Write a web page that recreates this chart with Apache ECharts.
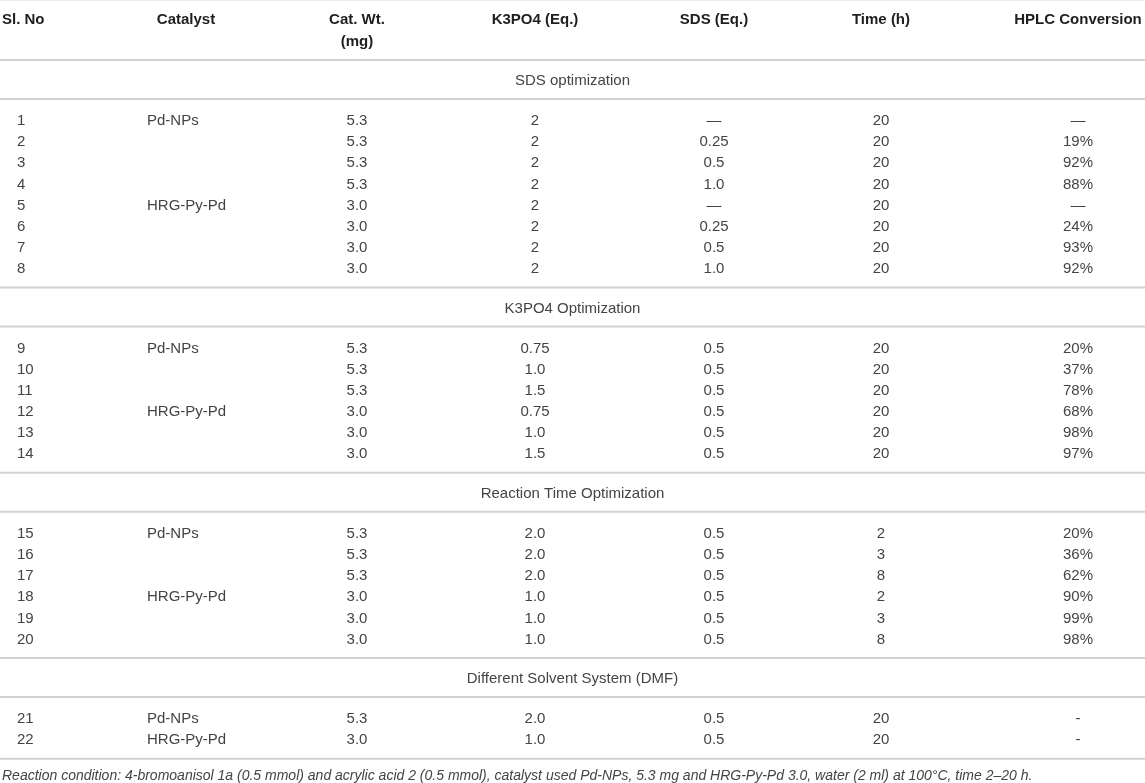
<!DOCTYPE html>
<html>
<head>
<meta charset="utf-8">
<script src="https://cdn.jsdelivr.net/npm/echarts@6/dist/echarts.min.js"></script>
<style>
  html, body { margin: 0; padding: 0; background: #fff; }
  #main { width: 1145px; height: 783px; }
</style>
</head>
<body>
<div id="main"></div>
<script>
// table content
var headers = ['Sl. No', 'Catalyst', 'Cat. Wt.\n(mg)', 'K3PO4 (Eq.)', 'SDS (Eq.)', 'Time (h)', 'HPLC Conversion'];
var sections = ['SDS optimization', 'K3PO4 Optimization', 'Reaction Time Optimization', 'Different Solvent System (DMF)'];
var sectionSizes = [8, 6, 6, 2];

var slNo = ['1', '2', '3', '4', '5', '6', '7', '8', '9', '10', '11',
            '12', '13', '14', '15', '16', '17', '18', '19', '20', '21', '22'];
var catalyst = ['Pd-NPs', '', '', '', 'HRG-Py-Pd', '', '', '',
                'Pd-NPs', '', '', 'HRG-Py-Pd', '', '',
                'Pd-NPs', '', '', 'HRG-Py-Pd', '', '',
                'Pd-NPs', 'HRG-Py-Pd'];
var catWt = ['5.3', '5.3', '5.3', '5.3', '3.0', '3.0', '3.0', '3.0',
             '5.3', '5.3', '5.3', '3.0', '3.0', '3.0',
             '5.3', '5.3', '5.3', '3.0', '3.0', '3.0',
             '5.3', '3.0'];
var k3po4 = ['2', '2', '2', '2', '2', '2', '2', '2',
             '0.75', '1.0', '1.5', '0.75', '1.0', '1.5',
             '2.0', '2.0', '2.0', '1.0', '1.0', '1.0',
             '2.0', '1.0'];
var sds = ['\u2014', '0.25', '0.5', '1.0', '\u2014', '0.25', '0.5', '1.0',
           '0.5', '0.5', '0.5', '0.5', '0.5', '0.5',
           '0.5', '0.5', '0.5', '0.5', '0.5', '0.5',
           '0.5', '0.5'];
var time = ['20', '20', '20', '20', '20', '20', '20', '20',
            '20', '20', '20', '20', '20', '20',
            '2', '3', '8', '2', '3', '8',
            '20', '20'];
var hplc = ['\u2014', '19%', '92%', '88%', '\u2014', '24%', '93%', '92%',
            '20%', '37%', '78%', '68%', '98%', '97%',
            '20%', '36%', '62%', '90%', '99%', '98%',
            '-', '-'];
var footnote = 'Reaction condition: 4-bromoanisol 1a (0.5 mmol) and acrylic acid 2 (0.5 mmol), catalyst used Pd-NPs, 5.3 mg and HRG-Py-Pd 3.0, water (2 ml) at 100\u00b0C, time 2\u201320 h.';

// layout
var W = 1145, H = 783;
var colX = [17, 147, 357, 535, 714, 881, 1078];
var colAlign = ['left', 'left', 'center', 'center', 'center', 'center', 'center'];
var headX = [2, 186, 357, 535, 714, 881, 1078];
var headAlign = ['left', 'center', 'center', 'center', 'center', 'center', 'center'];
var headTop = 9, headBottom = 60, band = 39, padTop = 22, padBottom = 18.5, rowH = 21.15;
var FONT = '"Liberation Sans", Arial, Helvetica, sans-serif';

var columns = [slNo, catalyst, catWt, k3po4, sds, time, hplc];

var headCells = headers.map(function (h, i) {
    return { x: headX[i], y: headTop, text: h, align: headAlign[i] };
});
var titleCells = [];
var bodyCells = [];
var rules = [headBottom];
var y0 = headBottom, row = 0;
sections.forEach(function (s, si) {
    titleCells.push({ x: W / 2, y: y0 + band / 2 + 1.5, text: s, align: 'center' });
    rules.push(y0 + band);
    var yr = y0 + band + padTop;
    for (var k = 0; k < sectionSizes[si]; k++) {
        columns.forEach(function (col, c) {
            if (col[row]) bodyCells.push({ x: colX[c], y: yr, text: col[row], align: colAlign[c] });
        });
        row++;
        if (k < sectionSizes[si] - 1) yr += rowH;
    }
    y0 = yr + padBottom;
    rules.push(y0);
});
var noteCells = [{ x: 2, y: y0 + 17, text: footnote, align: 'left' }];

function textSeries(cells, style, vAlign) {
    return {
        type: 'custom',
        coordinateSystem: 'cartesian2d',
        silent: true,
        data: cells.map(function (c) { return [c.x, c.y]; }),
        renderItem: function (params, api) {
            var c = cells[params.dataIndex];
            var p = api.coord([api.value(0), api.value(1)]);
            return {
                type: 'text',
                x: p[0],
                y: p[1],
                style: Object.assign({
                    text: c.text,
                    align: c.align,
                    verticalAlign: vAlign || 'middle',
                    fontFamily: FONT
                }, style)
            };
        }
    };
}

function ruleSeries(ys, color, width) {
    return {
        type: 'custom',
        coordinateSystem: 'cartesian2d',
        silent: true,
        data: ys.map(function (y) { return [0, y]; }),
        renderItem: function (params, api) {
            var a = api.coord([0, api.value(1)]);
            var b = api.coord([W, api.value(1)]);
            return {
                type: 'line',
                shape: { x1: a[0], y1: a[1], x2: b[0], y2: b[1] },
                style: { stroke: color, lineWidth: width }
            };
        }
    };
}

var chart = echarts.init(document.getElementById('main'));
chart.setOption({
    animation: false,
    backgroundColor: '#fff',
    grid: { left: 0, right: 0, top: 0, bottom: 0 },
    xAxis: { type: 'value', min: 0, max: W, show: false },
    yAxis: { type: 'value', min: 0, max: H, inverse: true, show: false },
    series: [
        ruleSeries([0.5], '#ececec', 1),
        ruleSeries(rules, '#d2d2d2', 2),
        textSeries(headCells, { fontSize: 15, fontWeight: 'bold', fill: '#1e1e1e', lineHeight: 22 }, 'top'),
        textSeries(titleCells, { fontSize: 15, fill: '#444' }),
        textSeries(bodyCells, { fontSize: 15, fill: '#444' }),
        textSeries(noteCells, { fontSize: 14, fontStyle: 'italic', fill: '#444' })
    ]
});
</script>
</body>
</html>
